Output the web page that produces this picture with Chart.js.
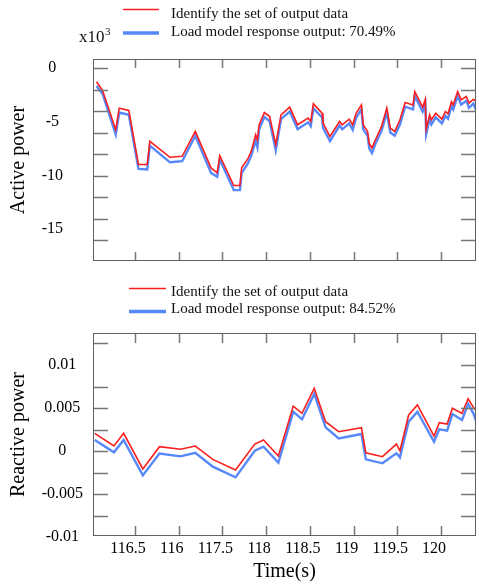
<!DOCTYPE html>
<html>
<head>
<meta charset="utf-8">
<script src="https://cdn.jsdelivr.net/npm/chart.js@4.4.1/dist/chart.umd.min.js"></script>
<style>
  html, body { margin: 0; padding: 0; background: #fff; }
  #wrap { position: relative; width: 479px; height: 587px; }
  canvas { position: absolute; left: 0; }
  #activeCanvas { top: 0; }
  #reactiveCanvas { top: 275px; }
</style>
</head>
<body>
<div id="wrap">
  <canvas id="activeCanvas" width="479" height="275"></canvas>
  <canvas id="reactiveCanvas" width="479" height="312"></canvas>
</div>
<script>
// ---- Active power (x10^3) ----
const activeTime = [116.06,116.13,116.28,116.32,116.43,116.54,116.64,116.67,116.90,117.04,
  117.19,117.37,117.44,117.47,117.63,117.70,117.72,117.79,117.83,117.88,
  117.90,117.92,117.98,118.04,118.11,118.17,118.27,118.36,118.48,118.51,
  118.54,118.64,118.65,118.73,118.84,118.87,118.95,118.99,119.03,119.09,
  119.11,119.16,119.18,119.21,119.25,119.32,119.38,119.42,119.47,119.53,
  119.59,119.68,119.70,119.79,119.82,119.83,119.87,119.89,119.94,120.01,
  120.05,120.08,120.12,120.14,120.19,120.23,120.29,120.32,120.37,120.40];
const activeMeasured = [-1.27,-2.10,-5.74,-3.73,-3.95,-8.98,-8.98,-6.82,-8.30,-8.21,
  -5.90,-9.29,-9.75,-8.15,-10.93,-10.93,-9.29,-8.46,-7.75,-6.20,
  -6.67,-5.28,-4.14,-4.51,-7.13,-4.35,-3.64,-5.28,-4.66,-4.97,
  -3.33,-4.20,-5.12,-6.36,-4.97,-5.28,-4.75,-5.28,-4.20,-3.43,
  -5.28,-5.90,-7.04,-7.44,-6.67,-5.43,-3.73,-5.59,-5.90,-4.81,
  -3.21,-3.43,-2.19,-3.64,-2.90,-5.68,-4.35,-4.81,-4.20,-4.75,
  -4.04,-4.26,-3.12,-3.43,-2.19,-2.96,-2.65,-3.27,-2.90,-3.12];
const activeModel = [-1.67,-2.41,-6.20,-4.14,-4.35,-9.38,-9.44,-7.22,-8.77,-8.67,
  -6.30,-9.75,-10.12,-8.52,-11.36,-11.36,-9.75,-8.90,-8.15,-6.75,
  -7.35,-5.70,-4.55,-4.95,-7.65,-4.75,-4.05,-5.70,-5.05,-5.40,
  -3.75,-4.60,-5.55,-6.80,-5.35,-5.70,-5.15,-5.75,-4.60,-3.85,
  -5.70,-6.30,-7.50,-7.90,-7.05,-5.85,-4.15,-6.00,-6.30,-5.25,
  -3.60,-3.85,-2.60,-4.05,-3.30,-6.15,-4.75,-5.25,-4.60,-5.15,
  -4.45,-4.70,-3.55,-3.85,-2.60,-3.40,-3.05,-3.70,-3.30,-3.90];

// ---- Reactive power ----
const reactiveTime = [116.04,116.26,116.37,116.59,116.78,117.02,117.19,117.39,117.65,117.87,
  117.97,118.14,118.31,118.41,118.55,118.68,118.83,119.09,119.14,119.33,
  119.49,119.53,119.63,119.73,119.92,119.98,120.07,120.13,120.24,120.31,
  120.37,120.41];
const reactiveMeasured = [0.00206,0.00058,0.00206,-0.00209,0.00050,0.00020,0.00058,-0.00097,-0.00221,0.00081,
  0.00128,-0.00058,0.00523,0.00438,0.00729,0.00341,0.00224,0.00271,-0.00020,-0.00066,
  0.00081,0.00003,0.00419,0.00535,0.00174,0.00329,0.00314,0.00497,0.00438,0.00608,
  0.00508,0.00457];
const reactiveModel = [0.00128,-0.00015,0.00128,-0.00283,-0.00030,-0.00062,-0.00020,-0.00182,-0.00306,0.00003,
  0.00050,-0.00136,0.00457,0.00368,0.00663,0.00275,0.00147,0.00198,-0.00097,-0.00143,
  -0.00027,-0.00074,0.00341,0.00457,0.00108,0.00252,0.00236,0.00430,0.00360,0.00547,
  0.00438,0.00322];

// ---- Axis ticks ----
const timeTickValues = [116.5,117,117.5,118,118.5,119,119.5,120];
const timeTickLabels = ['116.5','116','117.5','118','118.5','119','119.5','120'];
const activeTickValues = [0,-5,-10,-15];
const activeTickLabels = ['0','-5','-10','-15'];
const activeMarkValues = [0,-2,-4,-6,-8,-10,-12,-14,-16];
const reactiveTickValues = [0.01,0.005,0,-0.005,-0.01];
const reactiveTickLabels = ['0.01','0.005','0','-0.005','-0.01'];
const reactiveMarkLeft = [0.0125,0.0075,0.005,0.0025,0,-0.0025,-0.005,-0.0075];
const reactiveMarkRight = [0.0125,0.01,0.0075,0.005,0.0025,0,-0.0025,-0.005,-0.0075];

const seriesMeasuredName = 'Identify the set of output data';
const activeModelName = 'Load model response output: 70.49%';
const reactiveModelName = 'Load model response output: 84.52%';

const SERIF = "'Liberation Serif', 'Times New Roman', serif";
const RED = 'rgb(250,30,30)';
const BLUE = 'rgb(86,136,250)';

Chart.defaults.font.family = SERIF;
Chart.defaults.color = '#000';

const pairs = (xs, ys) => xs.map((x, i) => ({ x, y: ys[i] }));

// Plot frame with inward tick marks on all four sides
const framePlugin = {
  id: 'frame',
  afterDraw(chart, args, opts) {
    const { ctx, chartArea: a, scales } = chart;
    const seg = (x0, y0, x1, y1) => { ctx.beginPath(); ctx.moveTo(x0, y0); ctx.lineTo(x1, y1); ctx.stroke(); };
    ctx.save();
    ctx.strokeStyle = opts.markColor;
    ctx.lineWidth = 1.5;
    scales.x.ticks.forEach(t => {
      const px = Math.round(scales.x.getPixelForValue(t.value)) + 0.5;
      seg(px, a.top, px, a.top + opts.xMark);
      seg(px, a.bottom, px, a.bottom - opts.xMark);
    });
    opts.leftMarks.forEach(v => {
      const py = Math.round(scales.y.getPixelForValue(v)) + 0.5;
      seg(a.left, py, a.left + opts.yMark, py);
    });
    opts.rightMarks.forEach(v => {
      const py = Math.round(scales.y.getPixelForValue(v)) + 0.5;
      seg(a.right, py, a.right - opts.yMark, py);
    });
    ctx.strokeStyle = opts.frameColor;
    ctx.lineWidth = 1;
    ctx.strokeRect(Math.round(a.left) + 0.5, Math.round(a.top) + 0.5,
                   Math.round(a.right - a.left) - 1, Math.round(a.bottom - a.top) - 1);
    ctx.restore();
  }
};

// Stacked legend: line swatch followed by the series name
const lineLegendPlugin = {
  id: 'lineLegend',
  afterDraw(chart, args, opts) {
    const ctx = chart.ctx;
    ctx.save();
    ctx.font = `15px ${SERIF}`;
    ctx.fillStyle = '#111';
    ctx.textBaseline = 'alphabetic';
    ctx.textAlign = 'left';
    chart.data.datasets.forEach((ds, i) => {
      const row = opts.rows[i];
      ctx.strokeStyle = ds.borderColor;
      ctx.lineWidth = row.lineWidth;
      ctx.beginPath();
      ctx.moveTo(opts.x0, row.lineY);
      ctx.lineTo(opts.x1, row.lineY);
      ctx.stroke();
      ctx.fillText(ds.label, opts.textX, row.baseline);
    });
    ctx.restore();
  }
};

// Axis multiplier note "x10^3"
const multiplierPlugin = {
  id: 'multiplier',
  afterDraw(chart, args, opts) {
    if (!opts.show) return;
    const ctx = chart.ctx;
    ctx.save();
    ctx.fillStyle = '#111';
    ctx.textBaseline = 'alphabetic';
    ctx.textAlign = 'left';
    ctx.font = `17px ${SERIF}`;
    ctx.fillText('x10', opts.x, opts.y);
    const w = ctx.measureText('x10').width;
    ctx.font = `11px ${SERIF}`;
    ctx.fillText('3', opts.x + w + 0.5, opts.y - 7);
    ctx.restore();
  }
};

const lineDataset = (label, data, color, width) => ({
  label, data, borderColor: color, backgroundColor: color,
  borderWidth: width, pointRadius: 0, tension: 0, fill: false
});

function timeAxis(showLabels) {
  return {
    type: 'linear', min: 116.02, max: 120.40,
    afterBuildTicks: s => { s.ticks = timeTickValues.map(v => ({ value: v })); },
    afterFit: s => { s.height = showLabels ? 51 : 14; },
    grid: { display: false, drawTicks: false },
    border: { display: false },
    ticks: {
      display: showLabels, autoSkip: false, maxRotation: 0, padding: 3, labelOffset: -7,
      font: { size: 16 }, color: '#000',
      callback: v => timeTickLabels[timeTickValues.indexOf(v)]
    },
    title: { display: showLabels, text: 'Time(s)', font: { size: 20 }, color: '#000', padding: { top: 0, bottom: 3 } }
  };
}

function valueAxis(min, max, tickValues, tickLabels, padding, title) {
  return {
    type: 'linear', min, max,
    afterBuildTicks: s => { s.ticks = tickValues.map(v => ({ value: v })); },
    // fixed axis width; the label gap must not push the plot area inward
    afterFit: s => { s.width = 93; s.paddingTop = 0; s.paddingBottom = 0; },
    grid: { display: false, drawTicks: false },
    border: { display: false },
    ticks: {
      crossAlign: 'center', padding, autoSkip: false,
      font: { size: 16 }, color: '#000',
      callback: v => tickLabels[tickValues.indexOf(v)]
    },
    title: { display: true, text: title, font: { size: 20 }, color: '#000', padding: { top: 7, bottom: 0 } }
  };
}

new Chart(document.getElementById('activeCanvas'), {
  type: 'line',
  data: {
    datasets: [
      lineDataset(seriesMeasuredName, pairs(activeTime, activeMeasured), RED, 1.6),
      lineDataset(activeModelName, pairs(activeTime, activeModel), BLUE, 2.4)
    ]
  },
  options: {
    responsive: false, animation: false, devicePixelRatio: 1,
    layout: { autoPadding: false, padding: { top: 59, right: 3, bottom: 0, left: 0 } },
    scales: {
      x: timeAxis(false),
      y: valueAxis(-17.95, 0.84, activeTickValues, activeTickLabels, 30, 'Active power')
    },
    plugins: {
      legend: { display: false },
      tooltip: { enabled: false },
      frame: { frameColor: '#606060', markColor: '#777', xMark: 9, yMark: 15,
               leftMarks: activeMarkValues, rightMarks: activeMarkValues },
      lineLegend: { x0: 123, x1: 159, textX: 171,
                    rows: [{ lineY: 9.5, lineWidth: 1.5, baseline: 17.5 },
                           { lineY: 33, lineWidth: 3.5, baseline: 36 }] },
      multiplier: { show: true, x: 79, y: 42 }
    }
  },
  plugins: [framePlugin, lineLegendPlugin, multiplierPlugin]
});

new Chart(document.getElementById('reactiveCanvas'), {
  type: 'line',
  data: {
    datasets: [
      lineDataset(seriesMeasuredName, pairs(reactiveTime, reactiveMeasured), RED, 1.6),
      lineDataset(reactiveModelName, pairs(reactiveTime, reactiveModel), BLUE, 2.4)
    ]
  },
  options: {
    responsive: false, animation: false, devicePixelRatio: 1,
    layout: { autoPadding: false, padding: { top: 58, right: 3, bottom: 0, left: 0 } },
    scales: {
      x: timeAxis(true),
      y: valueAxis(-0.00988, 0.01372, reactiveTickValues, reactiveTickLabels, 10, 'Reactive power')
    },
    plugins: {
      legend: { display: false },
      tooltip: { enabled: false },
      frame: { frameColor: '#606060', markColor: '#777', xMark: 10, yMark: 15,
               leftMarks: reactiveMarkLeft, rightMarks: reactiveMarkRight },
      lineLegend: { x0: 129, x1: 166, textX: 171,
                    rows: [{ lineY: 13.5, lineWidth: 1.5, baseline: 20.5 },
                           { lineY: 36.5, lineWidth: 3.5, baseline: 37.5 }] },
      multiplier: { show: false }
    }
  },
  plugins: [framePlugin, lineLegendPlugin, multiplierPlugin]
});
</script>
</body>
</html>
